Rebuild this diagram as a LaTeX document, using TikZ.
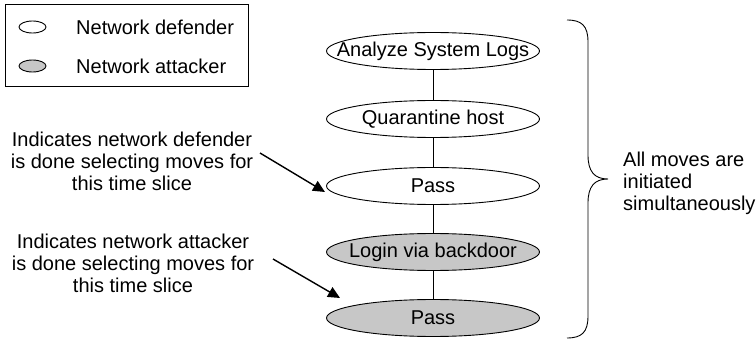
\documentclass[tikz,border=0pt]{standalone}
\usepackage{fontspec}
\setmainfont{Liberation Sans}
\usetikzlibrary{positioning,shapes.geometric,arrows.meta}

\definecolor{attackgray}{gray}{0.78}

% text that does not widen the ellipse
\newcommand{\movetext}[1]{\makebox[0pt]{#1}}

\tikzset{
  move/.style={ellipse, draw=black, line width=0.9pt, inner sep=0pt,
               minimum width=213pt, minimum height=37pt,
               font=\fontsize{20}{22}\selectfont},
  defmove/.style={move, fill=white},
  attmove/.style={move, fill=attackgray},
  legendmark/.style={ellipse, draw=black, line width=0.9pt, inner sep=0pt,
                     minimum width=27pt, minimum height=12pt},
  note/.style={inner sep=0pt, font=\fontsize{20}{22}\selectfont},
  pointer/.style={-{Triangle[length=12pt,width=11pt]}, line width=1.4pt},
}

\begin{document}
\begin{tikzpicture}[x=1pt, y=-1pt]
\useasboundingbox (0,0) rectangle (756,342);

% Legend
\node[draw=black, line width=0.9pt, minimum width=243pt, minimum height=82pt,
      inner sep=0pt] (legend) at (126.5,45) {};
\node[legendmark, fill=white] (defmark) at (32.5,27) {};
\node[legendmark, fill=attackgray] (attmark) at (32.5,66) {};
\node[note, anchor=west] (deflabel) at (76,27) {Network defender};
\node[note, anchor=west] (attlabel) at (76,66) {Network attacker};

% Moves
\node[defmove] (analyze) at (433,51) {\movetext{Analyze System Logs}};
\node[defmove] (quarantine) at (433,119) {\movetext{Quarantine host}};
\node[defmove] (defpass) at (433,186) {\movetext{Pass}};
\node[attmove] (login) at (433,252) {\movetext{Login via backdoor}};
\node[attmove] (attpass) at (433,318) {\movetext{Pass}};

\draw[line width=0.9pt] (analyze.south) -- (quarantine.north);
\draw[line width=0.9pt] (quarantine.south) -- (defpass.north);
\draw[line width=0.9pt] (defpass.south) -- (login.north);
\draw[line width=0.9pt] (login.south) -- (attpass.north);

% Notes
\node[note, align=center] (defnote) at (132,161) {Indicates network defender\\
  is done selecting moves for\\ this time slice};
\node[note, align=center] (attnote) at (133,263) {Indicates network attacker\\
  is done selecting moves for\\ this time slice};

\coordinate (deftail) at (260,153);
\coordinate (deftip) at ([shift={(-108,6)}]defpass.center);
\coordinate (atttail) at (273,259);
\coordinate (atttip) at ([shift={(-93,-20)}]attpass.center);
\draw[pointer] (deftail) -- (deftip);
\draw[pointer] (atttail) -- (atttip);

% Brace
\draw[line width=0.9pt] (567,20) .. controls (582,20) and (588,26) .. (588,42)
  -- (588,155) .. controls (588,171) and (594,179) .. (608,179)
  .. controls (594,179) and (588,187) .. (588,203)
  -- (588,316) .. controls (588,332) and (582,338) .. (567,338);
\node[note, align=left, anchor=west] (bracenote) at (623,183) {All moves are\\
  initiated\\ simultaneously};

\end{tikzpicture}
\end{document}
